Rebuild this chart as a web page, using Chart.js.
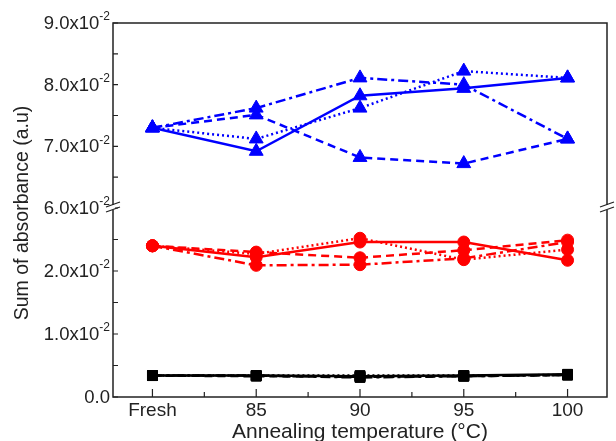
<!DOCTYPE html>
<html lang="en">
<head>
  <meta charset="UTF-8">
  <title>Sum of absorbance vs annealing temperature</title>
  <script src="https://cdn.jsdelivr.net/npm/chart.js"></script>
  <style>
    html, body { margin: 0; padding: 0; background: #fff; }
    #chart { display: block; }
  </style>
</head>
<body>
  <canvas id="chart" width="616" height="441"></canvas>
  <script>
    // categories along the x axis
    const temps = ['Fresh', '85', '90', '95', '100'];

    // upper panel (6.0e-2 .. 9.0e-2), blue triangles
    const blueSolid   = [0.0730, 0.0692, 0.0782, 0.0794, 0.0811];
    const blueDash    = [0.0730, 0.0751, 0.0682, 0.0672, 0.0712];
    const blueDashDot = [0.0730, 0.0762, 0.0811, 0.0800, 0.0712];
    const blueDot     = [0.0730, 0.0712, 0.0762, 0.0822, 0.0811];

    // lower panel (0 .. 3.0e-2), red circles
    const redSolid   = [0.0240, 0.0222, 0.0246, 0.0246, 0.0217];
    const redDot     = [0.0240, 0.0227, 0.0252, 0.0218, 0.0234];
    const redDash    = [0.0240, 0.0230, 0.0221, 0.0233, 0.0249];
    const redDashDot = [0.0240, 0.0209, 0.0210, 0.0220, 0.0246];

    // lower panel, black squares
    const blackSolid   = [0.0034, 0.0034, 0.0033, 0.0034, 0.0036];
    const blackDash    = [0.0034, 0.0033, 0.0032, 0.0033, 0.0035];
    const blackDot     = [0.0034, 0.0034, 0.0034, 0.0034, 0.0035];
    const blackDashDot = [0.0034, 0.0034, 0.0031, 0.0033, 0.0035];

    const X_MIN = -0.38, X_MAX = 4.38;
    const DASH = [8, 5], DOT = [2, 3], DASHDOT = [10, 4, 3, 4];
    const INK = '#222';
    const FONT = '"Liberation Sans", Arial, sans-serif';

    function series(values, color, dash, shape, radius, axis) {
      return {
        data: values.map((v, i) => ({ x: i, y: v })),
        yAxisID: axis,
        borderColor: color,
        backgroundColor: color,
        borderWidth: 2.5,
        borderDash: dash,
        pointStyle: shape,
        pointRadius: radius,
        pointBorderWidth: 1,
        pointBorderColor: color,
        pointBackgroundColor: color,
        tension: 0
      };
    }

    // inward ticks, frame, tick labels with exponents, axis break
    const decor = {
      id: 'decor',
      afterDraw(chart) {
        const ctx = chart.ctx;
        const a = chart.chartArea;
        const x = chart.scales.x, lo = chart.scales.yLow, hi = chart.scales.yHigh;
        ctx.save();
        ctx.strokeStyle = INK;
        ctx.lineWidth = 1.5;
        ctx.strokeRect(a.left, a.top, a.right - a.left, a.bottom - a.top);

        ctx.lineWidth = 1.2;
        ctx.beginPath();
        x.ticks.forEach(t => {
          if (t.value < 0 || t.value > 4) return;
          const px = x.getPixelForValue(t.value);
          const len = Number.isInteger(t.value) ? 8 : 5;
          ctx.moveTo(px, a.bottom);
          ctx.lineTo(px, a.bottom - len);
        });
        [lo, hi].forEach(s => {
          s.ticks.forEach(t => {
            const py = s.getPixelForValue(t.value);
            ctx.moveTo(a.left, py);
            ctx.lineTo(a.left + 5, py);
          });
        });
        ctx.stroke();

        // tick labels
        ctx.fillStyle = INK;
        ctx.textBaseline = 'middle';
        ctx.textAlign = 'right';
        const labels = [
          [lo, 0, '0.0', ''],
          [lo, 0.01, '1.0x10', '-2'],
          [lo, 0.02, '2.0x10', '-2'],
          [hi, 0.06, '6.0x10', '-2'],
          [hi, 0.07, '7.0x10', '-2'],
          [hi, 0.08, '8.0x10', '-2'],
          [hi, 0.09, '9.0x10', '-2']
        ];
        labels.forEach(([s, v, main, exp]) => {
          const py = s.getPixelForValue(v);
          let right = a.left - 3;
          if (exp) {
            ctx.font = '12px ' + FONT;
            ctx.fillText(exp, right, py - 6);
            right -= ctx.measureText(exp).width;
          }
          ctx.font = '18.5px ' + FONT;
          ctx.fillText(main, right, py + 1);
        });

        // y axis title
        ctx.save();
        ctx.translate(23, (a.top + a.bottom) / 2 + 3);
        ctx.rotate(-Math.PI / 2);
        ctx.textAlign = 'center';
        ctx.font = '19.5px ' + FONT;
        ctx.fillText('Sum of absorbance (a.u)', 0, 0);
        ctx.restore();

        // axis break on both side lines
        const by = hi.bottom;
        [a.left, a.right].forEach(bx => {
          ctx.fillStyle = '#fff';
          ctx.fillRect(bx - 2, by - 3, 4, 5);
          ctx.strokeStyle = INK;
          ctx.lineWidth = 1.3;
          ctx.beginPath();
          ctx.moveTo(bx - 7, by - 1);
          ctx.lineTo(bx + 7, by - 6);
          ctx.moveTo(bx - 7, by + 4);
          ctx.lineTo(bx + 7, by - 1);
          ctx.stroke();
        });
        ctx.restore();
      }
    };

    const yCommon = {
      type: 'linear',
      position: 'left',
      stack: 'y',
      grid: { display: false, drawTicks: false },
      border: { display: false },
      ticks: { display: false, stepSize: 0.005 },
      afterFit(scale) { scale.width = 113; }
    };

    new Chart(document.getElementById('chart'), {
      type: 'line',
      data: {
        datasets: [
          series(blueSolid, '#0000ff', [], 'triangle', 8, 'yHigh'),
          series(blueDash, '#0000ff', DASH, 'triangle', 8, 'yHigh'),
          series(blueDashDot, '#0000ff', DASHDOT, 'triangle', 8, 'yHigh'),
          series(blueDot, '#0000ff', DOT, 'triangle', 8, 'yHigh'),
          series(redSolid, '#ff0000', [], 'circle', 6, 'yLow'),
          series(redDot, '#ff0000', DOT, 'circle', 6, 'yLow'),
          series(redDash, '#ff0000', DASH, 'circle', 6, 'yLow'),
          series(redDashDot, '#ff0000', DASHDOT, 'circle', 6, 'yLow'),
          series(blackSolid, '#000000', [], 'rect', 7, 'yLow'),
          series(blackDash, '#000000', DASH, 'rect', 7, 'yLow'),
          series(blackDot, '#000000', DOT, 'rect', 7, 'yLow'),
          series(blackDashDot, '#000000', DASHDOT, 'rect', 7, 'yLow')
        ]
      },
      options: {
        responsive: false,
        animation: false,
        layout: { padding: { top: 23, right: 1, left: 0, bottom: 0 } },
        plugins: { legend: { display: false }, tooltip: { enabled: false } },
        scales: {
          x: {
            type: 'linear',
            min: X_MIN,
            max: X_MAX,
            grid: { display: false, drawTicks: false },
            border: { display: false },
            afterBuildTicks(scale) {
              // blank end ticks keep the edge labels from adding side padding
              const vals = [X_MIN, 0, 0.5, 1, 1.5, 2, 2.5, 3, 3.5, 4, X_MAX];
              scale.ticks = vals.map(v => ({ value: v }));
            },
            ticks: {
              autoSkip: false,
              maxRotation: 0,
              padding: 2,
              color: INK,
              font: { family: FONT, size: 19 },
              callback: v => Number.isInteger(v) && v >= 0 && v <= 4 ? temps[v] : ''
            },
            title: {
              display: true,
              text: 'Annealing temperature (°C)',
              color: INK,
              padding: { top: 0, bottom: -4 },
              font: { family: FONT, size: 21 }
            },
            afterFit(scale) { scale.height = 44; }
          },
          yLow: Object.assign({}, yCommon, { min: 0, max: 0.03, stackWeight: 189 }),
          yHigh: Object.assign({}, yCommon, { min: 0.06, max: 0.09, stackWeight: 185 })
        }
      },
      plugins: [decor]
    });
  </script>
</body>
</html>
